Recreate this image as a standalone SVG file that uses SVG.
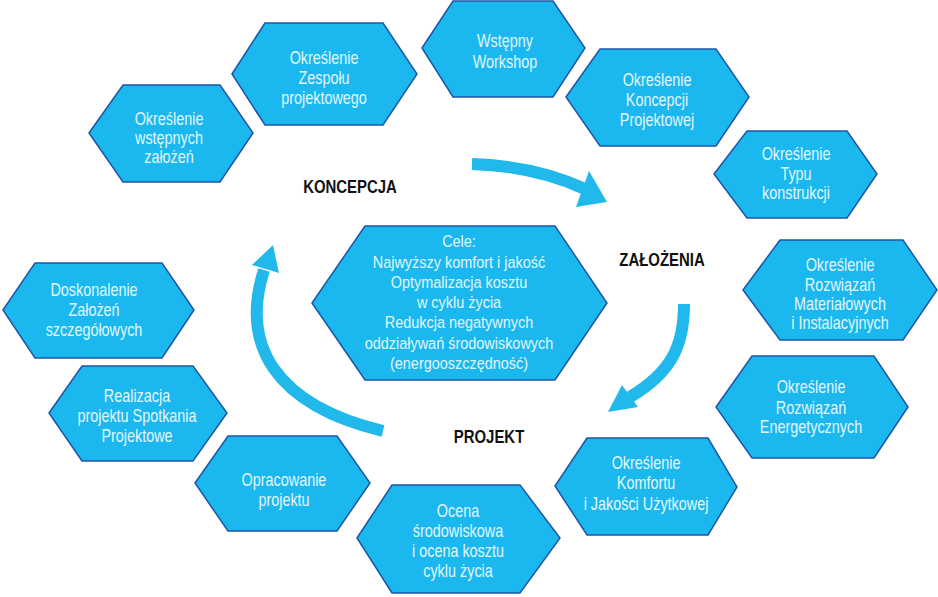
<svg xmlns="http://www.w3.org/2000/svg" width="938" height="597" viewBox="0 0 938 597">
<style>
.hex{fill:#1bb8ef;stroke:#1d56a6;stroke-width:1.5;stroke-linejoin:miter}
.t{font-family:"Liberation Sans",Arial,sans-serif;font-size:18px;fill:#e2f6fd;text-anchor:middle}
.tc{font-family:"Liberation Sans",Arial,sans-serif;font-size:17px;fill:#e2f6fd;text-anchor:middle}
.lbl{font-family:"Liberation Sans",Arial,sans-serif;font-size:18px;font-weight:bold;fill:#111;text-anchor:middle}
.ab{fill:none;stroke:#21b9ec;stroke-width:12}
.ah{fill:#21b9ec}
</style>
<rect width="938" height="597" fill="#ffffff"/>

<g id="connectors">
  <path class="ab" d="M472,164 Q535,166 585,189"/>
  <polygon class="ah" points="589,171 607,202 576,207"/>
  <path class="ab" d="M684,304 C684,345 672,372 630,397"/>
  <polygon class="ah" points="622,385 608,412 638,407"/>
  <path class="ab" d="M383,431 C275,405 240,345 264,270"/>
  <polygon class="ah" points="252,265 273,245 279,273"/>
</g>

<g id="n1">
  <polygon class="hex" points="89,133 123,85 220,85 253,133 220,182 123,182"/>
  <text class="t" transform="translate(169,0) scale(0.8,1)"><tspan x="0" y="125">Określenie</tspan><tspan x="0" y="144">wstępnych</tspan><tspan x="0" y="163">założeń</tspan></text>
</g>
<g id="n2">
  <polygon class="hex" points="232,74 265,23 383,23 417,74 383,125 265,125"/>
  <text class="t" transform="translate(324,0) scale(0.8,1)"><tspan x="0" y="64">Określenie</tspan><tspan x="0" y="84">Zespołu</tspan><tspan x="0" y="104">projektowego</tspan></text>
</g>
<g id="n3">
  <polygon class="hex" points="422,48 453,1 553,1 585,48 553,97 453,97"/>
  <text class="t" transform="translate(505,0) scale(0.8,1)"><tspan x="0" y="47">Wstępny</tspan><tspan x="0" y="68">Workshop</tspan></text>
</g>
<g id="n4">
  <polygon class="hex" points="566,97 600,49 716,49 749,97 716,146 600,146"/>
  <text class="t" transform="translate(657,0) scale(0.8,1)"><tspan x="0" y="86">Określenie</tspan><tspan x="0" y="106">Koncepcji</tspan><tspan x="0" y="126">Projektowej</tspan></text>
</g>
<g id="n5">
  <polygon class="hex" points="714,174 747,131 847,131 877,174 847,218 747,218"/>
  <text class="t" transform="translate(796,0) scale(0.8,1)"><tspan x="0" y="160">Określenie</tspan><tspan x="0" y="180">Typu</tspan><tspan x="0" y="199">konstrukcji</tspan></text>
</g>
<g id="n6">
  <polygon class="hex" points="743,290 780,240 903,240 937,290 903,340 780,340"/>
  <text class="t" transform="translate(840,0) scale(0.8,1)"><tspan x="0" y="271">Określenie</tspan><tspan x="0" y="291">Rozwiązań</tspan><tspan x="0" y="310">Materiałowych</tspan><tspan x="0" y="329">i Instalacyjnych</tspan></text>
</g>
<g id="n7">
  <polygon class="hex" points="716,407 752,356 874,356 908,407 874,458 752,458"/>
  <text class="t" transform="translate(811,0) scale(0.8,1)"><tspan x="0" y="393">Określenie</tspan><tspan x="0" y="414">Rozwiązań</tspan><tspan x="0" y="433">Energetycznych</tspan></text>
</g>
<g id="n8">
  <polygon class="hex" points="555,486 587,438 708,438 737,487 708,535 587,535"/>
  <text class="t" transform="translate(646,0) scale(0.8,1)"><tspan x="0" y="469">Określenie</tspan><tspan x="0" y="489">Komfortu</tspan><tspan x="0" y="510">i Jakości Użytkowej</tspan></text>
</g>
<g id="n9">
  <polygon class="hex" points="357,538 392,485 520,485 560,538 520,593 392,593"/>
  <text class="t" transform="translate(458,0) scale(0.8,1)"><tspan x="0" y="517">Ocena</tspan><tspan x="0" y="537">środowiskowa</tspan><tspan x="0" y="557">i ocena kosztu</tspan><tspan x="0" y="577">cyklu życia</tspan></text>
</g>
<g id="n10">
  <polygon class="hex" points="195,483 228,436 337,436 370,483 337,531 228,531"/>
  <text class="t" transform="translate(284,0) scale(0.8,1)"><tspan x="0" y="486">Opracowanie</tspan><tspan x="0" y="506">projektu</tspan></text>
</g>
<g id="n11">
  <polygon class="hex" points="49,413 82,366 193,366 227,413 193,461 82,461"/>
  <text class="t" transform="translate(137,0) scale(0.8,1)"><tspan x="0" y="402">Realizacja</tspan><tspan x="0" y="422">projektu Spotkania</tspan><tspan x="0" y="442">Projektowe</tspan></text>
</g>
<g id="n12">
  <polygon class="hex" points="3,310 35,263 162,263 194,310 162,358 35,358"/>
  <text class="t" transform="translate(94,0) scale(0.8,1)"><tspan x="0" y="296">Doskonalenie</tspan><tspan x="0" y="316">Założeń</tspan><tspan x="0" y="336">szczegółowych</tspan></text>
</g>
<g id="center">
  <polygon class="hex" points="312,303 365,226 555,226 607,303 555,380 365,380"/>
  <text class="tc" transform="translate(459,0) scale(0.85,1)"><tspan x="0" y="247">Cele:</tspan><tspan x="0" y="268">Najwyższy komfort i jakość</tspan><tspan x="0" y="288">Optymalizacja kosztu</tspan><tspan x="0" y="308">w cyklu życia</tspan><tspan x="0" y="328">Redukcja negatywnych</tspan><tspan x="0" y="349">oddziaływań środowiskowych</tspan><tspan x="0" y="369">(energooszczędność)</tspan></text>
</g>

<g id="labels">
  <text class="lbl" transform="translate(350,0) scale(0.83,1)" x="0" y="193">KONCEPCJA</text>
  <text class="lbl" transform="translate(662,0) scale(0.83,1)" x="0" y="266">ZAŁOŻENIA</text>
  <text class="lbl" transform="translate(489,0) scale(0.83,1)" x="0" y="443">PROJEKT</text>
</g>
</svg>
